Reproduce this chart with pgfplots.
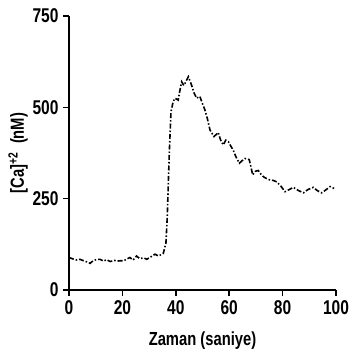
\documentclass[border=0pt]{standalone}
\usepackage{fontspec}
\setmainfont{Liberation Sans}[FakeStretch=0.78]
\usepackage{pgfplots}
\pgfplotsset{compat=1.18}
\begin{document}
\begin{tikzpicture}
\begin{axis}[
  name=ax,
  scale only axis,
  width=267bp, height=274bp,
  xmin=0, xmax=100, ymin=0, ymax=750,
  axis lines=left,
  axis line style={-, line width=1.6bp},
  xtick={0,20,40,60,80,100},
  ytick={0,250,500,750},
  tick align=outside,
  major tick length=6bp,
  tick style={line width=1.6bp, black},
  /pgf/number format/assume math mode=true,
  ticklabel style={font=\fontsize{20}{22}\selectfont\bfseries},
  xticklabel style={yshift=-1bp},
  yticklabel style={xshift=-1bp},
  xlabel={Zaman (saniye)},
  ylabel={[Ca]\textsuperscript{+2}\ \ (nM)},
  label style={font=\fontsize{19}{22}\selectfont\bfseries},
  xlabel style={yshift=-10bp},
  ylabel style={yshift=-2bp},
  clip=false,
]
\addplot[black, line width=1.6bp, dash pattern=on 5bp off 2bp on 1.5bp off 2bp] coordinates {
(0,89) (1.5,85) (3,82) (4.1,84) (5.5,80) (7,76) (7.9,73) (9,80) (10.5,84) (11.6,84)
(13,79) (14,83) (15.4,78) (17,81) (18,79) (19.1,80) (20.5,80) (22,86) (22.8,89) (24,82)
(25.3,93) (26.5,86) (28,88) (29.1,84) (30.5,90) (32.2,98) (33.5,93) (35.3,100) (36.3,128)
(36.8,200) (37.1,270) (37.6,383) (38.2,488) (39,515) (39.7,525) (40.9,520) (41.5,545)
(42.2,570) (43,560) (43.4,565) (44.7,584) (45.9,561) (46.8,540) (47.8,525) (49,530)
(50,510) (50.9,493) (51.8,470) (52.8,438) (54.3,420) (55.9,431) (56.8,410) (57.8,397)
(58.7,410) (59.7,406) (60.5,395) (61.5,383) (62.5,365) (63.8,347) (65,355) (65.9,360)
(67.5,357) (68.2,335) (68.8,315) (69.8,325) (70.9,327) (71.8,318) (72.8,310) (74,305)
(75.3,301) (76.5,300) (77.8,296) (79.5,283) (80.9,269) (82.5,275) (84,281) (86,272)
(87.8,266) (89.5,275) (91.5,281) (93,272) (94.6,266) (96,273) (97.8,283) (99.3,278)
};
\end{axis}
\pgfresetboundingbox
\path ([xshift=-69bp,yshift=-68bp]ax.south west) rectangle ++(351bp,358bp);
\end{tikzpicture}
\end{document}
